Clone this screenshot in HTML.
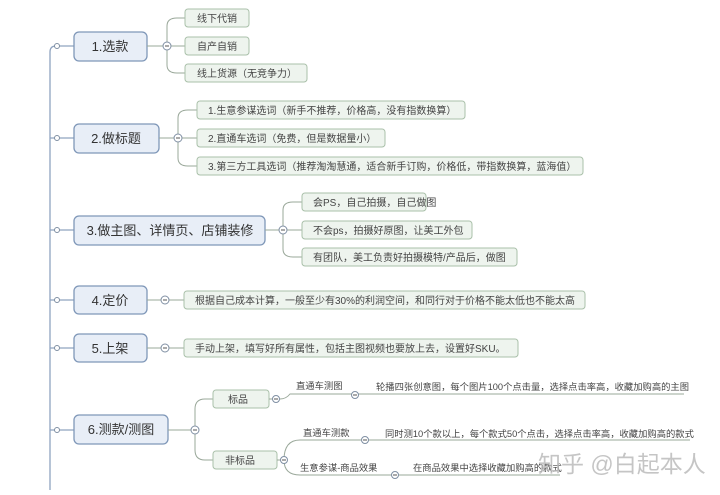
<!DOCTYPE html>
<html><head><meta charset="utf-8"><style>
body{margin:0;background:#fff;width:720px;height:490px;overflow:hidden}
svg{font-family:"Liberation Sans","Noto Sans CJK SC",sans-serif}
.m{fill:#e8eef7;stroke:#7f97b8;stroke-width:1.3}
.c{fill:#eef4ee;stroke:#a9c0a9;stroke-width:1}
.l{fill:none;stroke:#8fa3bf;stroke-width:1.3}
.g{fill:none;stroke:#9aa89a;stroke-width:1}
.o{fill:#fff;stroke:#7f8fa3;stroke-width:1}
.mt{font-size:13px;fill:#333}
.ct{font-size:10px;fill:#444}
.st{font-size:9.3px;fill:#444}
</style></head><body>
<svg width="720" height="490" viewBox="0 0 720 490">
<path class="l" d="M50 490 V52 Q50 46 56 46 H74"/>
<path class="l" d="M50 138 H74 M50 230 H74 M50 300 H74 M50 348 H74 M50 430 H74"/>
<g class="o"><circle cx="57" cy="46" r="2.5"/><circle cx="57" cy="138" r="2.5"/><circle cx="57" cy="230" r="2.5"/><circle cx="57" cy="300" r="2.5"/><circle cx="57" cy="348" r="2.5"/><circle cx="57" cy="430" r="2.5"/></g>

<rect class="m" x="74" y="32" width="73" height="29" rx="5"/><text class="mt" x="110" y="51" text-anchor="middle">1.选款</text>
<rect class="m" x="74" y="124" width="85" height="29" rx="5"/><text class="mt" x="116" y="143" text-anchor="middle">2.做标题</text>
<rect class="m" x="74" y="216" width="191" height="29" rx="5"/><text class="mt" x="170" y="235" text-anchor="middle">3.做主图、详情页、店铺装修</text>
<rect class="m" x="74" y="286" width="73" height="28" rx="5"/><text class="mt" x="110" y="305" text-anchor="middle">4.定价</text>
<rect class="m" x="74" y="334" width="73" height="28" rx="5"/><text class="mt" x="110" y="353" text-anchor="middle">5.上架</text>
<rect class="m" x="74" y="415" width="94" height="29" rx="5"/><text class="mt" x="121" y="434" text-anchor="middle">6.测款/测图</text>

<path class="g" d="M147 46 H185 M167 46 V26 Q167 18 177 18 H185 M167 46 V65 Q167 73 177 73 H185"/>
<circle class="o" cx="167" cy="46" r="4"/><path d="M165 46h4" stroke="#555"/>
<rect class="c" x="185" y="9" width="64" height="18" rx="3"/><text class="ct" x="197" y="22">线下代销</text>
<rect class="c" x="185" y="37" width="64" height="18" rx="3"/><text class="ct" x="197" y="50">自产自销</text>
<rect class="c" x="185" y="64" width="122" height="18" rx="3"/><text class="ct" x="197" y="77">线上货源（无竞争力）</text>

<path class="g" d="M159 138 H197 M178 138 V118 Q178 110 188 110 H197 M178 138 V158 Q178 166 188 166 H197"/>
<circle class="o" cx="178" cy="138" r="4"/><path d="M176 138h4" stroke="#555"/>
<rect class="c" x="197" y="101" width="268" height="18" rx="3"/><text class="ct" x="208" y="114">1.生意参谋选词（新手不推荐，价格高，没有指数换算）</text>
<rect class="c" x="197" y="129" width="188" height="18" rx="3"/><text class="ct" x="208" y="142">2.直通车选词（免费，但是数据量小）</text>
<rect class="c" x="197" y="157" width="386" height="18" rx="3"/><text class="ct" x="208" y="170">3.第三方工具选词（推荐淘淘慧通，适合新手订购，价格低，带指数换算，蓝海值）</text>

<path class="g" d="M265 230 H302 M283 230 V210 Q283 202 293 202 H302 M283 230 V249 Q283 257 293 257 H302"/>
<circle class="o" cx="283" cy="230" r="4"/><path d="M281 230h4" stroke="#555"/>
<rect class="c" x="302" y="193" width="124" height="18" rx="3"/><text class="ct" x="313" y="206">会PS，自己拍摄，自己做图</text>
<rect class="c" x="302" y="221" width="170" height="18" rx="3"/><text class="ct" x="313" y="234">不会ps，拍摄好原图，让美工外包</text>
<rect class="c" x="302" y="248" width="215" height="18" rx="3"/><text class="ct" x="313" y="261">有团队，美工负责好拍摄模特/产品后，做图</text>

<path class="g" d="M147 300 H184 M147 348 H184"/>
<circle class="o" cx="165" cy="300" r="4"/><path d="M163 300h4" stroke="#555"/>
<circle class="o" cx="165" cy="348" r="4"/><path d="M163 348h4" stroke="#555"/>
<rect class="c" x="184" y="291" width="401" height="18" rx="3"/><text class="ct" x="195" y="304">根据自己成本计算，一般至少有30%的利润空间，和同行对于价格不能太低也不能太高</text>
<rect class="c" x="184" y="339" width="334" height="18" rx="3"/><text class="ct" x="195" y="352">手动上架，填写好所有属性，包括主图视频也要放上去，设置好SKU。</text>

<path class="g" d="M168 430 H195 M195 430 V409 Q195 399 205 399 H213 M195 430 V450 Q195 460 205 460 H213"/>
<circle class="o" cx="195" cy="430" r="4"/><path d="M193 430h4" stroke="#555"/>
<rect class="c" x="213" y="390" width="56" height="18" rx="3"/><text class="ct" x="228" y="403">标品</text>
<rect class="c" x="213" y="451" width="64" height="18" rx="3"/><text class="ct" x="225" y="464">非标品</text>

<path class="g" d="M269 399 H280 Q286 399 290 394 H684"/>
<circle class="o" cx="276" cy="399" r="3.5"/><path d="M274 399h4" stroke="#555"/>
<circle class="o" cx="355" cy="395" r="3.5"/><path d="M353 395h4" stroke="#555"/>
<text class="st" x="296" y="389">直通车测图</text>
<text class="st" x="376" y="390">轮播四张创意图，每个图片100个点击量，选择点击率高，收藏加购高的主图</text>

<path class="g" d="M277 460 H284 M284 460 Q284 440 300 440 H690 M284 460 Q284 475 300 475 H560"/>
<circle class="o" cx="284" cy="460" r="3.5"/><path d="M282 460h4" stroke="#555"/>
<circle class="o" cx="365" cy="440" r="3.5"/><path d="M363 440h4" stroke="#555"/>
<circle class="o" cx="395" cy="475" r="3.5"/><path d="M393 475h4" stroke="#555"/>
<text class="st" x="303" y="436">直通车测款</text>
<text class="st" x="385" y="437">同时测10个款以上，每个款式50个点击，选择点击率高，收藏加购高的款式</text>
<text class="st" x="300" y="471">生意参谋-商品效果</text>
<text class="st" x="413" y="471">在商品效果中选择收藏加购高的款式</text>

<text x="538" y="472" font-size="23" fill="#bbb" fill-opacity="0.85">知乎 @白起本人</text>
</svg>
</body></html>
